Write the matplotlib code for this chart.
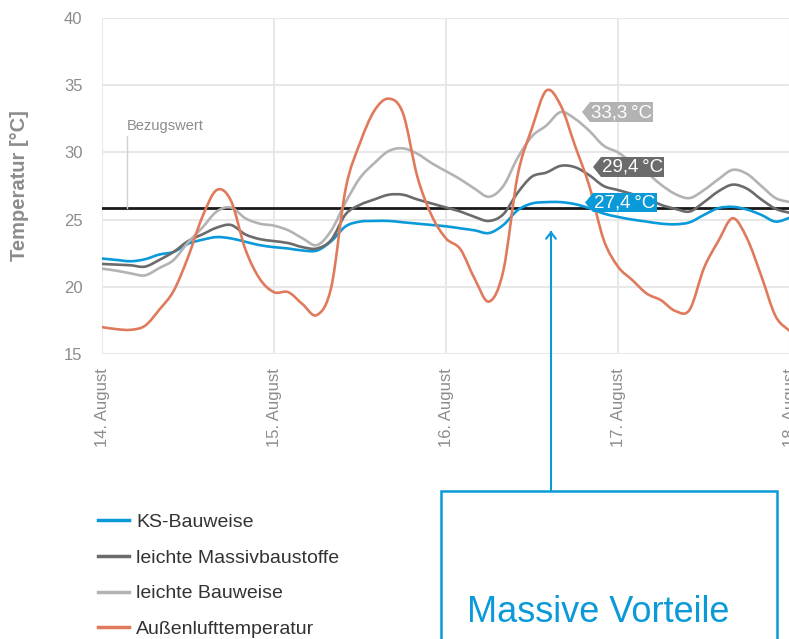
import matplotlib.pyplot as plt
from matplotlib.patches import Polygon, Rectangle, PathPatch
from matplotlib.path import Path
from matplotlib.lines import Line2D
import numpy as np

# DATA
hours = list(range(0, 97, 2))  # hours since 14. August, 0:00

ks_bauweise = [22.1, 22.0, 21.9, 22.05, 22.4, 22.6, 23.2, 23.5, 23.7, 23.6,
               23.35, 23.1, 22.95, 22.85, 22.7, 22.7, 23.4, 24.5, 24.85, 24.9,
               24.9, 24.8, 24.7, 24.6, 24.5, 24.35, 24.2, 24.0, 24.6, 25.7,
               26.2, 26.3, 26.3, 26.15, 25.85, 25.45, 25.2, 25.0, 24.85, 24.7,
               24.65, 24.8, 25.35, 25.85, 25.95, 25.75, 25.35, 24.85, 25.15]

massivbaustoffe = [21.7, 21.65, 21.6, 21.5, 22.0, 22.6, 23.4, 23.9, 24.4, 24.6,
                   23.9, 23.55, 23.4, 23.25, 22.95, 22.85, 23.5, 25.4, 26.1, 26.5,
                   26.85, 26.85, 26.5, 26.2, 25.9, 25.6, 25.2, 24.9, 25.4, 27.0,
                   28.2, 28.5, 29.0, 28.9, 28.3, 27.5, 27.2, 26.9, 26.6, 26.1,
                   25.8, 25.6, 26.3, 27.1, 27.6, 27.3, 26.5, 25.8, 25.5]

leichte_bauweise = [21.35, 21.2, 21.0, 20.85, 21.4, 22.0, 23.3, 24.4, 25.6, 25.9,
                    25.1, 24.7, 24.55, 24.2, 23.6, 23.1, 24.2, 26.3, 28.1, 29.2,
                    30.1, 30.3, 29.9, 29.2, 28.6, 28.0, 27.3, 26.7, 27.5, 29.6,
                    31.2, 32.0, 33.0, 32.5, 31.6, 30.5, 30.0, 29.2, 28.5, 27.6,
                    26.9, 26.6, 27.2, 28.0, 28.7, 28.4, 27.5, 26.6, 26.3]

aussenluft = [17.0, 16.85, 16.8, 17.1, 18.3, 19.7, 22.2, 25.2, 27.2, 26.4,
              22.8, 20.6, 19.6, 19.6, 18.7, 17.9, 20.0, 27.3, 30.7, 33.1,
              34.0, 32.9, 28.2, 25.3, 23.6, 22.8, 20.6, 18.9, 21.2, 28.3,
              31.8, 34.6, 33.5, 30.5, 27.5, 23.5, 21.5, 20.5, 19.5, 19.0,
              18.2, 18.3, 21.4, 23.4, 25.1, 23.6, 20.8, 17.8, 16.7]

bezugswert = 25.9
day_ticks = [0, 24, 48, 72, 96]
day_labels = ["14. August", "15. August", "16. August", "17. August", "18. August"]
y_ticks = [15, 20, 25, 30, 35, 40]

series = [
    ("KS-Bauweise", ks_bauweise, "#0a9ad9"),
    ("leichte Massivbaustoffe", massivbaustoffe, "#6b6b6b"),
    ("leichte Bauweise", leichte_bauweise, "#b3b3b3"),
    ("Außenlufttemperatur", aussenluft, "#e07a5c"),
]
max_labels = ["33,3\u2009°C", "29,4\u2009°C", "27,4\u2009°C"]

W, H = 789, 639
BLUE = "#0a9ad9"
TICK_GRAY = "#8c8c8c"
SANS = ["Liberation Sans", "DejaVu Sans"]


def px(x, y):
    """pixel position -> figure fraction"""
    return x / W, 1 - y / H


def smooth_path(xs, ys):
    """catmull-rom curve through the points, as a bezier path"""
    p = np.column_stack([xs, ys]).astype(float)
    p = np.vstack([p[0], p, p[-1]])
    verts = [p[1]]
    codes = [Path.MOVETO]
    for i in range(1, len(p) - 2):
        c1 = p[i] + (p[i + 1] - p[i - 1]) / 6
        c2 = p[i + 1] - (p[i + 2] - p[i]) / 6
        verts += [c1, c2, p[i + 1]]
        codes += [Path.CURVE4] * 3
    return Path(verts, codes)


def tag(x, y, w, h, text, color):
    """label box with a pointed left edge, given in pixels"""
    pts = [px(x, y + h / 2), px(x + 8, y), px(x + w, y),
           px(x + w, y + h), px(x + 8, y + h)]
    fig.patches.append(Polygon(pts, closed=True, transform=fig.transFigure,
                               facecolor=color, edgecolor="none"))
    tx, ty = px(x + 8 + (w - 8) / 2, y + h / 2 + 0.5)
    fig.text(tx, ty, text, color="white", fontsize=13.5, ha="center",
             va="center", family=SANS)


fig = plt.figure(figsize=(W / 100, H / 100), dpi=100)
ax = fig.add_axes([102 / W, 1 - 354 / H, 688 / W, 336 / H])

for label, vals, c in series:
    ax.add_patch(PathPatch(smooth_path(hours, vals), facecolor="none",
                           edgecolor=c, lw=1.9, joinstyle="round",
                           capstyle="round", zorder=3))

ax.axhline(bezugswert, color="#1a1a1a", lw=2.0, zorder=2)
ax.plot([3.5, 3.5], [bezugswert, 31.2], color="#d0d0d0", lw=1, zorder=2)
ax.text(3.5, 31.95, "Bezugswert", color="#8c8c8c", fontsize=10.5,
        ha="left", va="center", family=SANS)

ax.set_xlim(0, 96)
ax.set_ylim(15, 40)
ax.set_xticks(day_ticks)
ax.set_xticklabels(day_labels, rotation=90, va="top", ha="center")
ax.set_yticks(y_ticks)
ax.grid(True, color="#e8e8e8", lw=1.5, zorder=0)
ax.set_axisbelow(True)
for s in ax.spines.values():
    s.set_visible(False)
ax.tick_params(length=0, colors=TICK_GRAY, labelsize=12)
ax.tick_params(axis="y", pad=14)
ax.tick_params(axis="x", pad=10)
for t in ax.get_xticklabels() + ax.get_yticklabels():
    t.set_family(SANS)

fig.text(20 / W, 1 - 186 / H, "Temperatur [°C]", rotation=90, color="#8c8c8c",
         fontsize=14.5, fontweight="bold", ha="center", va="center", family=SANS)

# value tags
tag(582, 102, 71, 20, max_labels[0], "#b3b3b3")
tag(593, 157, 71, 20, max_labels[1], "#6b6b6b")
tag(585, 193, 72, 19, max_labels[2], BLUE)

# legend
handles = [Line2D([], [], color=c, lw=2.5) for _, _, c in series]
fig.legend(handles, [s[0] for s in series], loc="upper left",
           bbox_to_anchor=px(80, 496), frameon=False, handlelength=1.6,
           handletextpad=0.4, labelspacing=0.93,
           prop={"family": SANS, "size": 14}, labelcolor="#333333")

# callout box with arrow
fig.patches.append(Rectangle(px(441, 660), 336 / W, 169 / H,
                             transform=fig.transFigure, fill=False,
                             edgecolor=BLUE, lw=1.8))
fig.add_artist(plt.Line2D([551 / W, 551 / W], [1 - 491 / H, 1 - 232 / H],
                          color=BLUE, lw=1.5, transform=fig.transFigure))
ax.annotate("", xy=px(551, 228), xycoords="figure fraction",
            xytext=px(551, 240), textcoords="figure fraction",
            arrowprops=dict(arrowstyle="->,head_length=0.45,head_width=0.35",
                            color=BLUE, lw=1.5))
fig.text(*px(467, 622), "Massive Vorteile", color=BLUE, fontsize=26,
         ha="left", va="baseline", family=SANS)

fig.savefig("out.png", dpi=100)
